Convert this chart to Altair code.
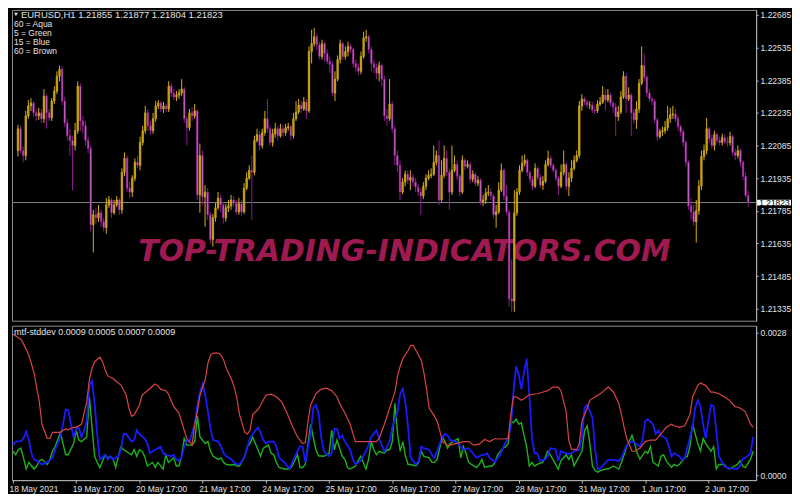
import altair as alt
import pandas as pd

# ---------------- data ----------------
symbol_header = "EURUSD,H1  1.21855 1.21877 1.21804 1.21823"
legend_lines = ["60 = Aqua", "5 = Green", "15 = Blue", "60 = Brown"]
indicator_header = "mtf-stddev 0.0009 0.0005 0.0007 0.0009"
watermark = "TOP-TRADING-INDICATORS.COM"

first_open = 1.22062
closes = [
    1.22162, 1.22062, 1.22039, 1.22221, 1.22267, 1.22280, 1.22235, 1.22221, 1.22235, 1.22208,
    1.22312, 1.22235, 1.22212, 1.22289, 1.22335, 1.22403, 1.22435, 1.22289, 1.22189, 1.22130,
    1.22108, 1.22085, 1.22153, 1.22358, 1.22198, 1.22176, 1.22108, 1.22071, 1.21721, 1.21767,
    1.21753, 1.21776, 1.21735, 1.21708, 1.21812, 1.21835, 1.21776, 1.21812, 1.21835, 1.21790,
    1.21962, 1.22026, 1.21889, 1.21871, 1.21935, 1.22008, 1.21994, 1.22099, 1.22153, 1.22235,
    1.22176, 1.22153, 1.22208, 1.22267, 1.22280, 1.22253, 1.22267, 1.22253, 1.22358, 1.22326,
    1.22308, 1.22317, 1.22326, 1.22344, 1.22208, 1.22167, 1.22235, 1.22221, 1.22244, 1.21858,
    1.22039, 1.21849, 1.21871, 1.21767, 1.21653, 1.21753, 1.21799, 1.21844, 1.21812, 1.21753,
    1.21799, 1.21808, 1.21835, 1.21821, 1.21780, 1.21817, 1.21780, 1.21889, 1.21935, 1.21971,
    1.21962, 1.22108, 1.22135, 1.22085, 1.22144, 1.22208, 1.22162, 1.22099, 1.22139, 1.22162,
    1.22130, 1.22162, 1.22144, 1.22167, 1.22171, 1.22130, 1.22208, 1.22239, 1.22271, 1.22253,
    1.22285, 1.22244, 1.22517, 1.22553, 1.22585, 1.22548, 1.22494, 1.22553, 1.22508, 1.22471,
    1.22458, 1.22326, 1.22390, 1.22480, 1.22553, 1.22494, 1.22517, 1.22540, 1.22526, 1.22462,
    1.22444, 1.22426, 1.22494, 1.22580, 1.22585, 1.22526, 1.22462, 1.22444, 1.22417, 1.22453,
    1.22390, 1.22221, 1.22208, 1.22276, 1.22162, 1.22039, 1.21994, 1.21871, 1.21917, 1.21953,
    1.21926, 1.21939, 1.21917, 1.21894, 1.21871, 1.21853, 1.21898, 1.21935, 1.21948, 1.21953,
    1.22008, 1.22039, 1.21835, 1.21948, 1.22026, 1.21962, 1.21871, 1.21971, 1.21998, 1.21944,
    1.21871, 1.22017, 1.21989, 1.21998, 1.21930, 1.21953, 1.21912, 1.21926, 1.21826, 1.21835,
    1.21867, 1.21871, 1.21853, 1.21767, 1.21780, 1.21880, 1.21971, 1.21853, 1.21780, 1.21380,
    1.21371, 1.21776, 1.21871, 1.21971, 1.22003, 1.22017, 1.21962, 1.21930, 1.21898, 1.21980,
    1.21939, 1.21903, 1.21921, 1.21998, 1.22026, 1.21994, 1.21971, 1.21935, 1.21898, 1.21962,
    1.21998, 1.21898, 1.21935, 1.21980, 1.22017, 1.22039, 1.22267, 1.22299, 1.22285, 1.22271,
    1.22271, 1.22248, 1.22244, 1.22276, 1.22285, 1.22317, 1.22294, 1.22317, 1.22280, 1.22262,
    1.22217, 1.22239, 1.22308, 1.22403, 1.22299, 1.22317, 1.22235, 1.22203, 1.22253, 1.22371,
    1.22453, 1.22399, 1.22326, 1.22299, 1.22289, 1.22203, 1.22126, 1.22148, 1.22153, 1.22167,
    1.22208, 1.22226, 1.22230, 1.22208, 1.22171, 1.22148, 1.22099, 1.22008, 1.21808, 1.21780,
    1.21735, 1.21785, 1.21898, 1.22035, 1.22062, 1.22162, 1.22117, 1.22085, 1.22135, 1.22108,
    1.22099, 1.22121, 1.22103, 1.22099, 1.22126, 1.22053, 1.22039, 1.22062, 1.22008, 1.21944,
    1.21855, 1.21823,
]
highs = [
    1.22180, 1.22176, 1.22080, 1.22244, 1.22294, 1.22303, 1.22289, 1.22253, 1.22258, 1.22253,
    1.22344, 1.22321, 1.22253, 1.22303, 1.22358, 1.22426, 1.22453, 1.22449, 1.22308, 1.22208,
    1.22162, 1.22130, 1.22189, 1.22380, 1.22371, 1.22221, 1.22198, 1.22126, 1.22085, 1.21790,
    1.21799, 1.21812, 1.21790, 1.21753, 1.21844, 1.21853, 1.21844, 1.21835, 1.21853, 1.21844,
    1.21980, 1.22053, 1.22039, 1.21917, 1.21948, 1.22026, 1.22039, 1.22126, 1.22176, 1.22267,
    1.22253, 1.22198, 1.22235, 1.22289, 1.22294, 1.22289, 1.22285, 1.22276, 1.22380, 1.22371,
    1.22344, 1.22335, 1.22344, 1.22390, 1.22353, 1.22221, 1.22253, 1.22262, 1.22276, 1.22253,
    1.22094, 1.22062, 1.21903, 1.21889, 1.21780, 1.21771, 1.21821, 1.21871, 1.21858, 1.21826,
    1.21817, 1.21835, 1.21858, 1.21853, 1.21835, 1.21844, 1.21835, 1.21912, 1.21962, 1.21994,
    1.22039, 1.22130, 1.22162, 1.22153, 1.22162, 1.22244, 1.22299, 1.22176, 1.22162, 1.22189,
    1.22176, 1.22185, 1.22180, 1.22185, 1.22189, 1.22180, 1.22235, 1.22289, 1.22299, 1.22289,
    1.22308, 1.22299, 1.22540, 1.22617, 1.22626, 1.22599, 1.22562, 1.22571, 1.22562, 1.22526,
    1.22494, 1.22471, 1.22426, 1.22499, 1.22571, 1.22562, 1.22540, 1.22562, 1.22553, 1.22535,
    1.22480, 1.22462, 1.22517, 1.22608, 1.22617, 1.22594, 1.22540, 1.22480, 1.22462, 1.22471,
    1.22462, 1.22403, 1.22253, 1.22390, 1.22289, 1.22176, 1.22062, 1.22017, 1.21935, 1.21971,
    1.21971, 1.21971, 1.21953, 1.21935, 1.21908, 1.21889, 1.21917, 1.21953, 1.21971, 1.21980,
    1.22085, 1.22062, 1.22108, 1.22017, 1.22085, 1.22062, 1.21980, 1.22085, 1.22039, 1.22017,
    1.21953, 1.22039, 1.22026, 1.22017, 1.22008, 1.21971, 1.21962, 1.21944, 1.21935, 1.21858,
    1.21889, 1.21903, 1.21889, 1.21862, 1.21812, 1.21917, 1.22003, 1.21980, 1.21903, 1.21790,
    1.21562, 1.21880, 1.21889, 1.21994, 1.22039, 1.22044, 1.22026, 1.21971, 1.21944, 1.22003,
    1.21989, 1.21953, 1.21944, 1.22017, 1.22062, 1.22039, 1.22003, 1.21980, 1.21944, 1.21998,
    1.22062, 1.22008, 1.21962, 1.22017, 1.22039, 1.22062, 1.22289, 1.22321, 1.22308, 1.22294,
    1.22289, 1.22285, 1.22267, 1.22294, 1.22308, 1.22358, 1.22344, 1.22344, 1.22326, 1.22294,
    1.22280, 1.22267, 1.22335, 1.22426, 1.22417, 1.22353, 1.22326, 1.22253, 1.22289, 1.22390,
    1.22540, 1.22508, 1.22408, 1.22344, 1.22308, 1.22299, 1.22212, 1.22162, 1.22171, 1.22198,
    1.22267, 1.22258, 1.22267, 1.22253, 1.22221, 1.22180, 1.22158, 1.22108, 1.22017, 1.21844,
    1.21812, 1.21835, 1.21926, 1.22062, 1.22090, 1.22212, 1.22171, 1.22135, 1.22153, 1.22144,
    1.22126, 1.22139, 1.22135, 1.22126, 1.22148, 1.22135, 1.22071, 1.22085, 1.22071, 1.22017,
    1.21962, 1.21877,
]
lows = [
    1.22035, 1.22049, 1.22008, 1.22017, 1.22208, 1.22244, 1.22217, 1.22198, 1.22203, 1.22189,
    1.22189, 1.22162, 1.22198, 1.22198, 1.22276, 1.22321, 1.22380, 1.22271, 1.22171, 1.22108,
    1.22039, 1.21880, 1.22062, 1.22139, 1.22153, 1.22139, 1.22085, 1.22049, 1.21690, 1.21594,
    1.21726, 1.21735, 1.21712, 1.21690, 1.21680, 1.21799, 1.21753, 1.21767, 1.21803, 1.21767,
    1.21771, 1.21944, 1.21871, 1.21844, 1.21849, 1.21921, 1.21980, 1.21971, 1.22085, 1.22139,
    1.22153, 1.22135, 1.22139, 1.22194, 1.22253, 1.22239, 1.22235, 1.22239, 1.22239, 1.22308,
    1.22294, 1.22289, 1.22299, 1.22312, 1.22189, 1.22085, 1.22153, 1.22198, 1.22208, 1.21835,
    1.21776, 1.21812, 1.21712, 1.21744, 1.21635, 1.21621, 1.21735, 1.21790, 1.21780, 1.21726,
    1.21735, 1.21780, 1.21790, 1.21803, 1.21767, 1.21767, 1.21762, 1.21771, 1.21880, 1.21926,
    1.21744, 1.21948, 1.22099, 1.22062, 1.22071, 1.22130, 1.22144, 1.22085, 1.22080, 1.22121,
    1.22108, 1.22121, 1.22126, 1.22130, 1.22153, 1.22108, 1.22117, 1.22198, 1.22230, 1.22235,
    1.22244, 1.22208, 1.22235, 1.22462, 1.22540, 1.22526, 1.22480, 1.22480, 1.22471, 1.22458,
    1.22417, 1.22312, 1.22289, 1.22380, 1.22462, 1.22480, 1.22480, 1.22494, 1.22508, 1.22444,
    1.22426, 1.22408, 1.22412, 1.22485, 1.22562, 1.22508, 1.22426, 1.22417, 1.22390, 1.22380,
    1.22358, 1.22198, 1.22176, 1.22198, 1.22144, 1.21994, 1.21962, 1.21835, 1.21862, 1.21898,
    1.21908, 1.21880, 1.21898, 1.21871, 1.21853, 1.21767, 1.21839, 1.21880, 1.21926, 1.21935,
    1.21944, 1.21994, 1.21812, 1.21826, 1.21935, 1.21944, 1.21790, 1.21858, 1.21962, 1.21926,
    1.21853, 1.21862, 1.21971, 1.21980, 1.21912, 1.21917, 1.21898, 1.21898, 1.21812, 1.21808,
    1.21817, 1.21853, 1.21835, 1.21753, 1.21708, 1.21771, 1.21871, 1.21835, 1.21767, 1.21344,
    1.21321, 1.21321, 1.21762, 1.21858, 1.21962, 1.21989, 1.21944, 1.21912, 1.21880, 1.21889,
    1.21926, 1.21889, 1.21880, 1.21912, 1.21989, 1.21980, 1.21962, 1.21921, 1.21858, 1.21889,
    1.21948, 1.21880, 1.21853, 1.21917, 1.21971, 1.22008, 1.22026, 1.22244, 1.22271, 1.22258,
    1.22253, 1.22235, 1.22230, 1.22235, 1.22267, 1.22276, 1.22244, 1.22285, 1.22267, 1.22235,
    1.22130, 1.22198, 1.22230, 1.22299, 1.22235, 1.22289, 1.22130, 1.22185, 1.22162, 1.22235,
    1.22362, 1.22380, 1.22308, 1.22285, 1.22271, 1.22189, 1.22108, 1.22117, 1.22130, 1.22139,
    1.22153, 1.22189, 1.22208, 1.22194, 1.22153, 1.22130, 1.22080, 1.21989, 1.21790, 1.21744,
    1.21717, 1.21639, 1.21767, 1.21880, 1.22017, 1.22044, 1.22099, 1.22071, 1.22062, 1.22094,
    1.22085, 1.22085, 1.22090, 1.22080, 1.22085, 1.22039, 1.22017, 1.22026, 1.21989, 1.21926,
    1.21845, 1.21804,
]

price_ticks = [1.21335, 1.21485, 1.21635, 1.21785, 1.21935, 1.22085, 1.22235, 1.22385, 1.22535, 1.22685]
date_ticks = [0, 24, 48, 72, 96, 120, 144, 168, 192, 216, 240, 264]
date_labels = ["18 May 2021", "19 May 17:00", "20 May 17:00", "21 May 17:00", "24 May 17:00",
               "25 May 17:00", "26 May 17:00", "27 May 17:00", "28 May 17:00", "31 May 17:00",
               "1 Jun 17:00", "2 Jun 17:00"]
std_ticks = [0.0, 0.0028]

red_bars = [0, 3, 4, 6, 8, 10, 11, 13, 14, 15, 18, 19, 20, 21, 23, 24, 25, 26, 28, 29, 30, 31, 33, 34, 35, 36,
            38, 39, 41, 43, 44, 45, 46, 48, 49, 51, 54, 55, 56, 58, 59, 60, 61, 63, 64, 65, 66, 68, 69, 70, 71,
            73, 74, 75, 76, 78, 79, 80, 81, 83, 84, 85, 86, 88, 89, 90, 91, 93, 94, 96, 98, 100, 102, 104, 106,
            108, 110, 111, 112, 113, 115, 117, 119, 121, 123, 124, 126, 128, 130, 132, 134, 136, 138, 139, 141,
            143, 145, 146, 147, 148, 150, 151, 152, 153, 155, 156, 157, 158, 160, 161, 162, 163, 165, 166, 168,
            170, 171, 173, 175, 177, 179, 181, 183, 184, 186, 188, 189, 190, 191, 193, 194, 196, 199, 201, 203,
            205, 207, 208, 210, 211, 212, 214, 215, 216, 218, 219, 221, 223, 225, 226, 228, 230, 231, 232, 233,
            235, 236, 238, 240, 242, 244, 246, 248, 250, 251, 253, 255, 257, 258, 260, 261, 263, 265, 266, 268,
            270, 272, 274, 276, 278, 280, 281]
red_vals = [0.00277, 0.00267, 0.00258, 0.00236, 0.00201, 0.00144, 0.00100, 0.00072, 0.00072, 0.00084,
            0.00084, 0.00088, 0.00091, 0.00089, 0.00094, 0.00094, 0.00097, 0.00100, 0.00144, 0.00188,
            0.00210, 0.00223, 0.00232, 0.00223, 0.00207, 0.00195, 0.00190, 0.00185, 0.00177, 0.00157,
            0.00132, 0.00116, 0.00118, 0.00138, 0.00157, 0.00166, 0.00179, 0.00176, 0.00169, 0.00166,
            0.00160, 0.00147, 0.00135, 0.00122, 0.00106, 0.00088, 0.00072, 0.00059, 0.00100, 0.00125,
            0.00157, 0.00188, 0.00220, 0.00236, 0.00240, 0.00240, 0.00236, 0.00226, 0.00210, 0.00188,
            0.00173, 0.00151, 0.00119, 0.00084, 0.00081, 0.00088, 0.00119, 0.00129, 0.00138, 0.00157,
            0.00159, 0.00154, 0.00144, 0.00122, 0.00097, 0.00075, 0.00062, 0.00064, 0.00106, 0.00138,
            0.00160, 0.00169, 0.00171, 0.00166, 0.00154, 0.00141, 0.00122, 0.00100, 0.00066, 0.00066,
            0.00066, 0.00066, 0.00066, 0.00072, 0.00100, 0.00132, 0.00163, 0.00195, 0.00214, 0.00229,
            0.00245, 0.00255, 0.00255, 0.00245, 0.00226, 0.00201, 0.00169, 0.00132, 0.00116, 0.00106,
            0.00088, 0.00066, 0.00059, 0.00059, 0.00062, 0.00064, 0.00066, 0.00066, 0.00059, 0.00061,
            0.00070, 0.00066, 0.00072, 0.00071, 0.00071, 0.00072, 0.00120, 0.00154, 0.00154, 0.00147,
            0.00150, 0.00158, 0.00160, 0.00163, 0.00166, 0.00173, 0.00173, 0.00166, 0.00125, 0.00069,
            0.00051, 0.00050, 0.00062, 0.00106, 0.00132, 0.00147, 0.00154, 0.00160, 0.00169, 0.00173,
            0.00163, 0.00141, 0.00119, 0.00094, 0.00072, 0.00047, 0.00047, 0.00053, 0.00066, 0.00069,
            0.00069, 0.00081, 0.00094, 0.00100, 0.00097, 0.00094, 0.00097, 0.00119, 0.00154, 0.00177,
            0.00181, 0.00176, 0.00163, 0.00163, 0.00160, 0.00154, 0.00147, 0.00135, 0.00132, 0.00125,
            0.00100, 0.00094]

blue_bars = [0, 1, 3, 4, 5, 6, 7, 8, 10, 11, 13, 15, 16, 18, 19, 20, 21, 22, 23, 24, 25, 26, 27, 28, 29, 30,
             31, 32, 33, 35, 36, 37, 38, 40, 41, 42, 43, 45, 46, 47, 48, 50, 51, 52, 53, 55, 56, 57, 58, 60, 61,
             62, 63, 64, 65, 66, 67, 69, 70, 71, 72, 73, 74, 75, 76, 78, 79, 80, 81, 83, 84, 85, 86, 88, 89, 90,
             91, 93, 94, 95, 96, 97, 99, 100, 101, 103, 105, 106, 108, 109, 110, 111, 113, 114, 115, 116, 117,
             118, 120, 121, 122, 123, 124, 125, 126, 128, 129, 130, 132, 134, 135, 136, 138, 139, 141, 142, 143,
             144, 146, 147, 148, 149, 150, 151, 153, 154, 155, 156, 158, 159, 160, 161, 163, 164, 165, 166, 168,
             169, 170, 171, 173, 174, 175, 176, 178, 179, 180, 181, 183, 184, 185, 186, 188, 189, 190, 191, 192,
             193, 194, 195, 196, 197, 198, 199, 200, 202, 203, 204, 206, 207, 208, 210, 211, 212, 213, 215, 216,
             217, 218, 220, 221, 222, 223, 225, 226, 228, 230, 231, 232, 233, 235, 236, 238, 239, 240, 241, 243,
             244, 245, 246, 248, 249, 250, 251, 253, 254, 255, 256, 258, 259, 260, 261, 262, 263, 264, 265, 266,
             267, 268, 270, 271, 273, 275, 276, 277, 278, 280, 281]
blue_vals = [0.00059, 0.00066, 0.00067, 0.00072, 0.00086, 0.00070, 0.00043, 0.00031, 0.00025, 0.00021,
             0.00025, 0.00034, 0.00050, 0.00075, 0.00100, 0.00129, 0.00127, 0.00100, 0.00075, 0.00091,
             0.00093, 0.00075, 0.00088, 0.00106, 0.00176, 0.00185, 0.00140, 0.00078, 0.00031, 0.00040,
             0.00031, 0.00037, 0.00031, 0.00037, 0.00050, 0.00081, 0.00081, 0.00066, 0.00069, 0.00088,
             0.00081, 0.00072, 0.00062, 0.00043, 0.00047, 0.00053, 0.00056, 0.00043, 0.00040, 0.00037,
             0.00040, 0.00031, 0.00028, 0.00035, 0.00056, 0.00069, 0.00066, 0.00100, 0.00138, 0.00163,
             0.00179, 0.00157, 0.00125, 0.00091, 0.00069, 0.00066, 0.00056, 0.00043, 0.00037, 0.00031,
             0.00025, 0.00021, 0.00021, 0.00037, 0.00056, 0.00072, 0.00081, 0.00094, 0.00084, 0.00069,
             0.00062, 0.00066, 0.00066, 0.00056, 0.00034, 0.00025, 0.00013, 0.00025, 0.00047, 0.00057,
             0.00056, 0.00025, 0.00081, 0.00132, 0.00138, 0.00122, 0.00075, 0.00047, 0.00037, 0.00043,
             0.00091, 0.00091, 0.00072, 0.00078, 0.00066, 0.00050, 0.00032, 0.00021, 0.00028, 0.00047,
             0.00059, 0.00075, 0.00088, 0.00072, 0.00047, 0.00056, 0.00066, 0.00094, 0.00125, 0.00160,
             0.00170, 0.00141, 0.00094, 0.00034, 0.00021, 0.00028, 0.00056, 0.00053, 0.00050, 0.00040,
             0.00034, 0.00047, 0.00075, 0.00081, 0.00078, 0.00069, 0.00066, 0.00062, 0.00056, 0.00050,
             0.00053, 0.00047, 0.00040, 0.00034, 0.00040, 0.00040, 0.00043, 0.00034, 0.00025, 0.00034,
             0.00040, 0.00053, 0.00075, 0.00094, 0.00163, 0.00214, 0.00198, 0.00169, 0.00201, 0.00229,
             0.00160, 0.00075, 0.00043, 0.00043, 0.00028, 0.00031, 0.00037, 0.00053, 0.00051, 0.00028,
             0.00047, 0.00043, 0.00042, 0.00043, 0.00047, 0.00050, 0.00075, 0.00132, 0.00138, 0.00113,
             0.00050, 0.00012, 0.00013, 0.00025, 0.00030, 0.00030, 0.00028, 0.00034, 0.00047, 0.00059,
             0.00066, 0.00064, 0.00056, 0.00069, 0.00106, 0.00110, 0.00100, 0.00081, 0.00088, 0.00078,
             0.00072, 0.00056, 0.00037, 0.00043, 0.00037, 0.00030, 0.00034, 0.00053, 0.00094, 0.00132,
             0.00147, 0.00135, 0.00100, 0.00072, 0.00106, 0.00138, 0.00135, 0.00088, 0.00037, 0.00018,
             0.00015, 0.00013, 0.00012, 0.00018, 0.00032, 0.00034, 0.00043, 0.00075]

green_bars = [0, 1, 2, 3, 4, 5, 6, 8, 9, 10, 11, 13, 14, 15, 16, 18, 19, 20, 21, 23, 24, 25, 26, 28, 29, 30,
              31, 32, 33, 34, 35, 36, 37, 38, 39, 40, 41, 42, 43, 44, 45, 46, 47, 48, 49, 50, 51, 53, 54, 55,
              57, 58, 59, 61, 62, 63, 64, 65, 66, 68, 69, 70, 71, 73, 74, 75, 76, 78, 79, 80, 81, 83, 84, 85,
              86, 88, 89, 90, 91, 93, 94, 95, 96, 97, 98, 99, 100, 101, 103, 104, 105, 106, 108, 109, 110, 111,
              113, 114, 115, 116, 118, 119, 120, 121, 122, 123, 124, 125, 126, 127, 128, 130, 131, 132, 133,
              134, 135, 136, 137, 138, 139, 141, 142, 143, 144, 145, 146, 147, 148, 149, 150, 151, 153, 154,
              155, 156, 158, 159, 160, 161, 163, 164, 165, 166, 168, 169, 170, 171, 172, 173, 174, 176, 177,
              178, 179, 181, 182, 183, 184, 186, 187, 188, 189, 190, 191, 192, 193, 194, 195, 196, 197, 198,
              199, 201, 202, 203, 205, 206, 207, 208, 210, 211, 212, 213, 214, 216, 217, 218, 219, 220, 221,
              222, 223, 225, 226, 228, 230, 231, 232, 233, 235, 236, 237, 238, 240, 241, 242, 243, 245, 246,
              247, 248, 250, 251, 252, 253, 255, 256, 257, 258, 260, 261, 262, 263, 265, 266, 267, 268, 270,
              271, 272, 273, 275, 276, 277, 278, 280, 281]
green_vals = [0.00047, 0.00040, 0.00050, 0.00053, 0.00034, 0.00012, 0.00025, 0.00012, 0.00018, 0.00028,
              0.00031, 0.00021, 0.00031, 0.00047, 0.00056, 0.00084, 0.00062, 0.00040, 0.00040, 0.00062,
              0.00088, 0.00069, 0.00066, 0.00075, 0.00154, 0.00094, 0.00037, 0.00025, 0.00015, 0.00028,
              0.00040, 0.00034, 0.00037, 0.00031, 0.00015, 0.00037, 0.00056, 0.00050, 0.00047, 0.00043,
              0.00040, 0.00050, 0.00037, 0.00050, 0.00047, 0.00037, 0.00018, 0.00025, 0.00015, 0.00025,
              0.00012, 0.00040, 0.00025, 0.00034, 0.00018, 0.00018, 0.00037, 0.00072, 0.00059, 0.00059,
              0.00066, 0.00116, 0.00075, 0.00062, 0.00066, 0.00047, 0.00037, 0.00031, 0.00034, 0.00025,
              0.00021, 0.00020, 0.00021, 0.00018, 0.00018, 0.00037, 0.00056, 0.00062, 0.00075, 0.00050,
              0.00037, 0.00053, 0.00056, 0.00059, 0.00043, 0.00040, 0.00025, 0.00015, 0.00012, 0.00012,
              0.00012, 0.00018, 0.00040, 0.00015, 0.00015, 0.00021, 0.00100, 0.00075, 0.00050, 0.00038,
              0.00037, 0.00040, 0.00043, 0.00088, 0.00050, 0.00069, 0.00053, 0.00037, 0.00031, 0.00015,
              0.00012, 0.00018, 0.00028, 0.00037, 0.00025, 0.00012, 0.00031, 0.00066, 0.00050, 0.00040,
              0.00047, 0.00043, 0.00050, 0.00050, 0.00066, 0.00141, 0.00081, 0.00047, 0.00066, 0.00037,
              0.00021, 0.00021, 0.00018, 0.00025, 0.00047, 0.00037, 0.00034, 0.00025, 0.00025, 0.00031,
              0.00075, 0.00066, 0.00053, 0.00062, 0.00069, 0.00072, 0.00034, 0.00056, 0.00043, 0.00025,
              0.00021, 0.00015, 0.00021, 0.00031, 0.00015, 0.00018, 0.00018, 0.00025, 0.00040, 0.00053,
              0.00056, 0.00062, 0.00106, 0.00103, 0.00110, 0.00100, 0.00103, 0.00078, 0.00056, 0.00018,
              0.00025, 0.00018, 0.00021, 0.00025, 0.00034, 0.00047, 0.00031, 0.00021, 0.00012, 0.00028,
              0.00040, 0.00031, 0.00040, 0.00018, 0.00028, 0.00047, 0.00088, 0.00097, 0.00062, 0.00018,
              0.00009, 0.00006, 0.00009, 0.00012, 0.00012, 0.00018, 0.00012, 0.00025, 0.00040, 0.00056,
              0.00078, 0.00062, 0.00043, 0.00031, 0.00047, 0.00043, 0.00056, 0.00025, 0.00018, 0.00037,
              0.00040, 0.00028, 0.00015, 0.00021, 0.00018, 0.00021, 0.00034, 0.00037, 0.00056, 0.00100,
              0.00062, 0.00047, 0.00072, 0.00062, 0.00047, 0.00056, 0.00012, 0.00021, 0.00021, 0.00015,
              0.00012, 0.00015, 0.00021, 0.00028, 0.00018, 0.00015, 0.00031, 0.00047]

# ---------------- styling / layout ----------------
FONT = "Liberation Sans"
TXT = "#E2E2E2"
FRAME = "#8C8C8C"
UP_WICK, UP_BODY = "#D4AF14", "#B8960E"
DN_WICK, DN_BODY = "#8E1C8E", "#E98FE9"
RED, BLUE, GREEN = "#D84444", "#1A1AFF", "#1DB21D"
W = 747
H_TOP = 312
H_BOT = 155

opens = [first_open] + closes[:-1]
bars = list(range(len(closes)))
df = pd.DataFrame({
    "bar": bars, "open": opens, "close": closes,
    "high": [max(h, o, c) for h, o, c in zip(highs, opens, closes)],
    "low": [min(l, o, c) for l, o, c in zip(lows, opens, closes)],
})

xscale = alt.Scale(domain=[-0.378, 282.13], nice=False, zero=False)
yprice = alt.Scale(domain=[1.21280, 1.22708], nice=False, zero=False)
ystd = alt.Scale(domain=[-0.0000979, 0.002937], nice=False, zero=False)

price_axis = alt.Axis(orient="right", values=price_ticks, format=".5f", title=None,
                      labelFlush=False, labelOverlap=False, tickSize=2, labelPadding=2)
std_axis = alt.Axis(orient="right", values=std_ticks, format=".4f", title=None,
                    labelFlush=False, labelOverlap=False, tickSize=2, labelPadding=2)
label_expr = "[" + ",".join("'%s'" % s for s in date_labels) + "][round(datum.value / 24)]"
date_axis = alt.Axis(values=date_ticks, labelExpr=label_expr, title=None, labelAlign="left",
                     labelOverlap=False, labelFlush=False, labelBound=False, tickSize=3,
                     labelPadding=1, labelOffset=-4)

X = alt.X("bar:Q", scale=xscale, axis=None)
is_up = "datum.close >= datum.open"

wm = alt.Chart(pd.DataFrame({"t": [watermark]})).mark_text(
    font="DejaVu Sans", fontSize=30, fontWeight="bold", fontStyle="italic",
    color="#A01A52", align="center", baseline="alphabetic"
).encode(x=alt.value(394), y=alt.value(252), text="t:N")

last = pd.DataFrame({"p": [closes[-1]]})
hline = alt.Chart(last).mark_rule(color="#7E868C", strokeWidth=1).encode(
    y=alt.Y("p:Q", scale=yprice, axis=price_axis))

wicks = alt.Chart(df).mark_rule(strokeWidth=1).encode(
    x=X,
    y=alt.Y("low:Q", scale=yprice, axis=price_axis),
    y2="high:Q",
    color=alt.condition(is_up, alt.value(UP_WICK), alt.value(DN_WICK)),
)
bodies = alt.Chart(df).mark_bar(size=1.4, strokeWidth=0.8).encode(
    x=X,
    y=alt.Y("open:Q", scale=yprice, axis=price_axis),
    y2="close:Q",
    fill=alt.condition(is_up, alt.value(UP_BODY), alt.value(DN_BODY)),
    stroke=alt.condition(is_up, alt.value(UP_WICK), alt.value(DN_WICK)),
)

box_half = 0.00013
box_df = pd.DataFrame({"p": [closes[-1]], "hi": [closes[-1] + box_half], "lo": [closes[-1] - box_half]})
pbox = alt.Chart(box_df).mark_rect(color="#FFFFFF").encode(
    x=alt.value(W + 1), x2=alt.value(W + 35),
    y=alt.Y("hi:Q", scale=yprice, axis=price_axis), y2="lo:Q")
ptext = alt.Chart(box_df).mark_text(font=FONT, fontSize=8.5, color="#000000", align="left",
                                    baseline="middle").encode(
    x=alt.value(W + 3), y=alt.Y("p:Q", scale=yprice, axis=price_axis),
    text=alt.Text("p:Q", format=".5f"))

tri = alt.Chart(pd.DataFrame({"t": ["v"]})).mark_point(
    shape="triangle-down", filled=True, size=14, color="#E8E8E8", opacity=1
).encode(x=alt.value(4), y=alt.value(4.5))
head = alt.Chart(pd.DataFrame({"t": [symbol_header]})).mark_text(
    font=FONT, fontSize=9.5, color=TXT, align="left", baseline="top"
).encode(x=alt.value(9), y=alt.value(0), text="t:N")

leg_layers = []
for k, line in enumerate(legend_lines):
    leg_layers.append(
        alt.Chart(pd.DataFrame({"t": [line]})).mark_text(
            font=FONT, fontSize=8.5, color=TXT, align="left", baseline="top"
        ).encode(x=alt.value(2), y=alt.value(10.5 + 9 * k), text="t:N")
    )

top = alt.layer(wm, hline, wicks, bodies, pbox, ptext, tri, head, *leg_layers).properties(
    width=W, height=H_TOP)

XB = alt.X("bar:Q", scale=xscale, axis=date_axis)
green_df = pd.DataFrame({"bar": green_bars, "v": green_vals})
blue_df = pd.DataFrame({"bar": blue_bars, "v": blue_vals})
red_df = pd.DataFrame({"bar": red_bars, "v": red_vals})
g_line = alt.Chart(green_df).mark_line(color=GREEN, strokeWidth=1.4).encode(
    x=XB, y=alt.Y("v:Q", scale=ystd, axis=std_axis))
b_line = alt.Chart(blue_df).mark_line(color=BLUE, strokeWidth=1.8).encode(
    x=XB, y=alt.Y("v:Q", scale=ystd, axis=std_axis))
r_line = alt.Chart(red_df).mark_line(color=RED, strokeWidth=1.2).encode(
    x=XB, y=alt.Y("v:Q", scale=ystd, axis=std_axis))
ihead = alt.Chart(pd.DataFrame({"t": [indicator_header]})).mark_text(
    font=FONT, fontSize=9, color=TXT, align="left", baseline="middle"
).encode(x=alt.value(2), y=alt.value(6), text="t:N")

bottom = alt.layer(g_line, b_line, r_line, ihead).properties(width=W, height=H_BOT)

chart = alt.vconcat(top, bottom, spacing=3).properties(
    padding=0, background="#000000"
).configure_view(
    stroke=FRAME, strokeWidth=1
).configure_axis(
    grid=False, domainColor="#B4B4B4", tickColor="#B4B4B4", labelColor=TXT,
    labelFont=FONT, labelFontSize=8.5
)

chart.save("out.html", embed_options={"renderer": "svg", "actions": False})
